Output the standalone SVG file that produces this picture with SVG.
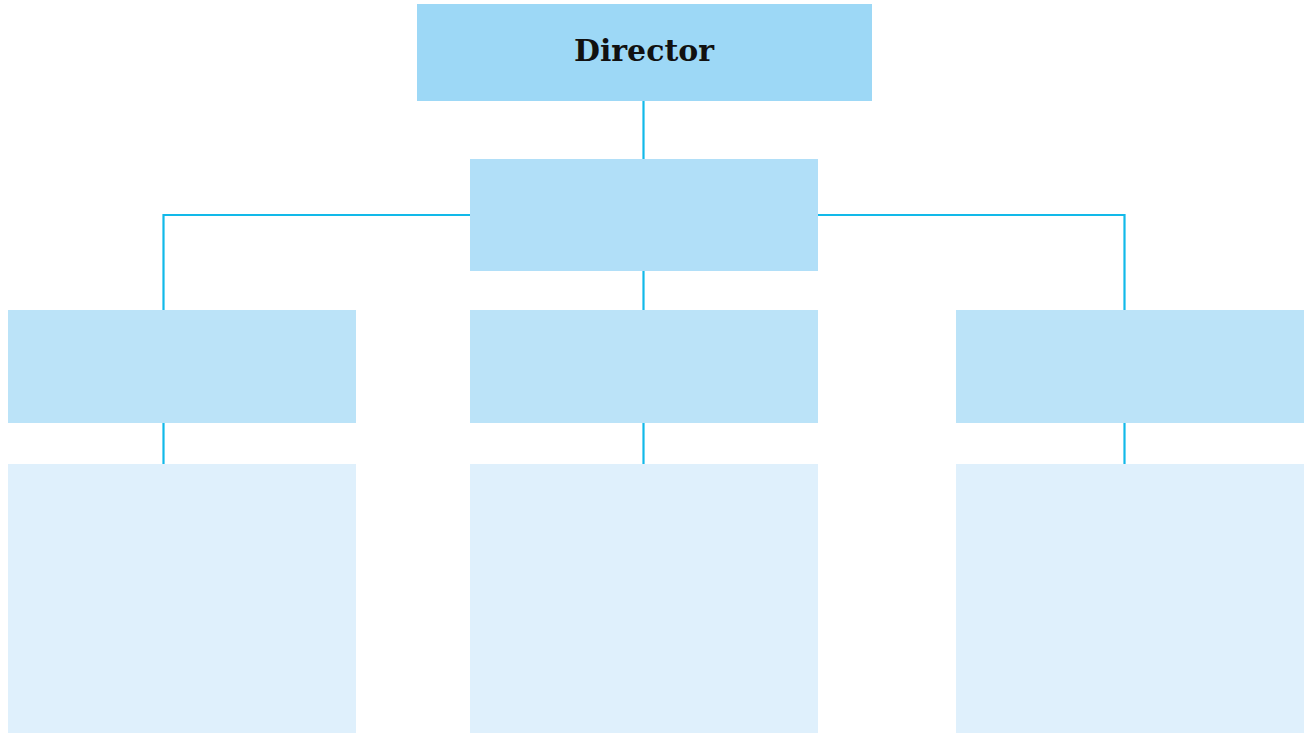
<svg xmlns="http://www.w3.org/2000/svg" width="1307" height="733" viewBox="0 0 1307 733">
<style>
.l1{fill:#9dd8f6}
.l2{fill:#b1dff8}
.l3{fill:#bbe3f8}
.l4{fill:#dff0fc}
.conn{fill:none;stroke:#12b9e9;stroke-width:2.2}
.t{font-family:"DejaVu Serif","Liberation Serif",serif;font-weight:bold;font-size:30px;fill:#111;text-anchor:middle}
</style>
<rect width="1307" height="733" fill="#fff"/>
<g id="connectors">
<path class="conn" d="M643.5 101V159"/>
<path class="conn" d="M470 215H163.5V310"/>
<path class="conn" d="M818 215H1124.5V310"/>
<path class="conn" d="M643.5 271V310"/>
<path class="conn" d="M163.5 423V464"/>
<path class="conn" d="M643.5 423V464"/>
<path class="conn" d="M1124.5 423V464"/>
</g>
<g id="director"><rect class="l1" x="417" y="4" width="455" height="97"/><text class="t" x="644" y="61" textLength="140" lengthAdjust="spacingAndGlyphs">Director</text></g>
<g id="deputy"><rect class="l2" x="470" y="159" width="348" height="112"/></g>
<g id="dept-left"><rect class="l3" x="8" y="310" width="348" height="113"/></g>
<g id="dept-mid"><rect class="l3" x="470" y="310" width="348" height="113"/></g>
<g id="dept-right"><rect class="l3" x="956" y="310" width="348" height="113"/></g>
<g id="detail-left"><rect class="l4" x="8" y="464" width="348" height="269"/></g>
<g id="detail-mid"><rect class="l4" x="470" y="464" width="348" height="269"/></g>
<g id="detail-right"><rect class="l4" x="956" y="464" width="348" height="269"/></g>
</svg>
